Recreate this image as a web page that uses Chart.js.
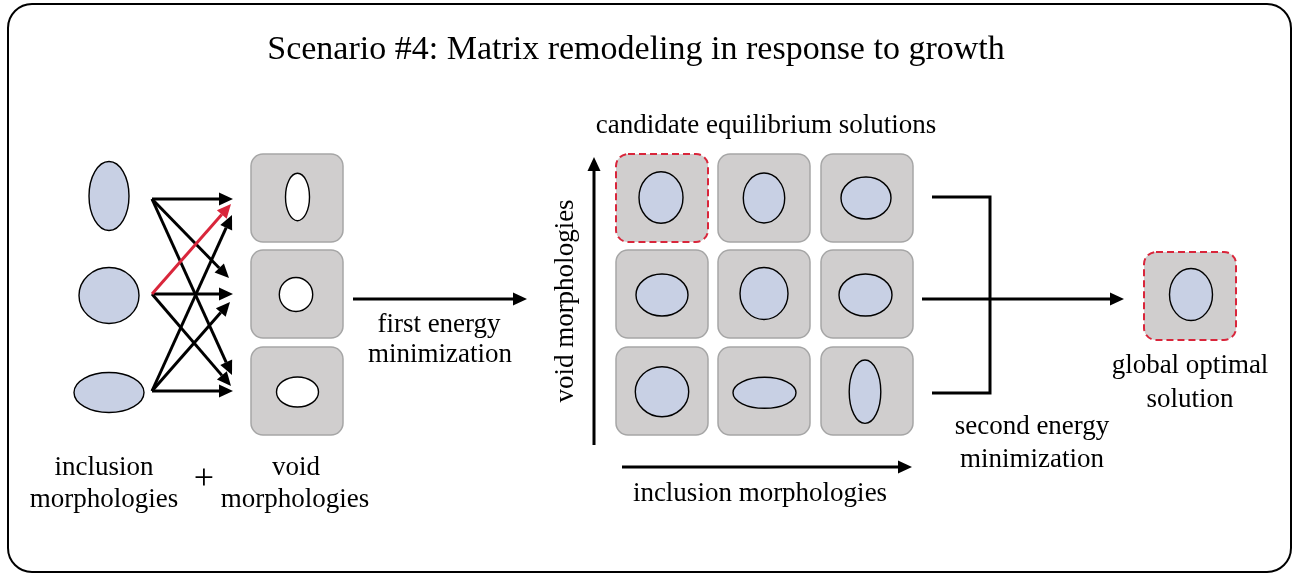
<!DOCTYPE html>
<html>
<head>
<meta charset="utf-8">
<script src="https://cdn.jsdelivr.net/npm/chart.js@4"></script>
<style>
  html, body { margin: 0; padding: 0; background: #fff; }
  canvas { display: block; }
</style>
</head>
<body>
<canvas id="scenarioChart" width="1296" height="574"></canvas>
<script>
// diagram units = image pixels, y grows downwards
const rowTops = [154, 250, 347];
const voidColX = 251;
const gridColX = [616, 718, 821];
const globalBox = [1144, 252];
const boxSize = [92, 88];

// ellipses: [cx, cy, rx, ry]
const inclusionShapes = [[109, 196, 20, 34.5], [109, 295.5, 30, 28], [109, 392.5, 35, 20]];
const voidShapes = [[297.5, 197, 12, 23.7], [296, 294.5, 16.7, 17], [297.5, 392, 21, 15]];
const gridShapes = [
  [661, 197.5, 22, 25.8], [764, 198, 20.7, 25], [866, 198, 25, 21],
  [662, 295, 26, 21], [764, 293.5, 24, 26], [865.5, 295, 26.5, 21],
  [662, 391.7, 26.7, 25], [764.5, 392.8, 31.5, 15.5], [865, 391.7, 15.8, 31.7]
];
const globalShape = [1191, 294.5, 21.5, 26];

// arrows: [x1, y1, x2, y2, colour]
const fanArrows = [
  [152, 199, 233, 199, 'k'], [152, 199, 229, 278, 'k'], [152, 199, 232, 375, 'k'],
  [152, 294, 231, 204, 'r'], [152, 294, 233, 294, 'k'], [152, 294, 231, 386, 'k'],
  [152, 391, 232, 215, 'k'], [152, 391, 230, 302, 'k'], [152, 391, 233, 391, 'k']
];
const flowArrows = [
  [353, 299, 527, 299], [594, 445, 594, 157], [622, 467, 912, 467], [922, 299, 1124, 299]
];
const bracket = [[932, 197], [990, 197], [990, 393], [932, 393]];

// labels: [text, x, y, size]
const labels = [
  ['Scenario #4: Matrix remodeling in response to growth', 636, 50, 34],
  ['candidate equilibrium solutions', 766, 126, 27],
  ['inclusion', 104, 468, 27], ['morphologies', 104, 500, 27],
  ['+', 204, 480, 36],
  ['void', 296, 468, 27], ['morphologies', 295, 500, 27],
  ['first energy', 439, 325, 27], ['minimization', 440, 355, 27],
  ['inclusion morphologies', 760, 494, 27],
  ['second energy', 1032, 427, 27], ['minimization', 1032, 460, 27],
  ['global optimal', 1190, 366, 27], ['solution', 1190, 400, 27]
];
const sideLabel = ['void morphologies', 566, 301, 27];

const FONT = '"Liberation Serif", "DejaVu Serif", serif';

const diagramPlugin = {
  id: 'diagram',
  afterDraw(chart) {
    const ctx = chart.ctx;
    const sx = chart.scales.x, sy = chart.scales.y;
    const px = v => sx.getPixelForValue(v);
    const py = v => sy.getPixelForValue(v);
    const dx = v => px(v) - px(0);
    const dy = v => py(v) - py(0);

    ctx.save();

    // outer frame
    roundRect(ctx, px(8), py(4), dx(1283), dy(568), 24);
    ctx.lineWidth = 2;
    ctx.strokeStyle = '#000';
    ctx.stroke();

    function box(x, y, dashed) {
      roundRect(ctx, px(x), py(y), dx(boxSize[0]), dy(boxSize[1]), 12);
      ctx.fillStyle = '#d0cece';
      ctx.fill();
      if (dashed) {
        ctx.setLineDash([7, 4]);
        ctx.strokeStyle = '#d9263b';
        ctx.lineWidth = 2;
      } else {
        ctx.setLineDash([]);
        ctx.strokeStyle = '#a6a6a6';
        ctx.lineWidth = 1.5;
      }
      ctx.stroke();
      ctx.setLineDash([]);
    }

    function ellipse(e, fill) {
      ctx.beginPath();
      ctx.ellipse(px(e[0]), py(e[1]), dx(e[2]), dy(e[3]), 0, 0, Math.PI * 2);
      ctx.fillStyle = fill;
      ctx.fill();
      ctx.lineWidth = 1.4;
      ctx.strokeStyle = '#000';
      ctx.stroke();
    }

    function arrow(x1, y1, x2, y2, color) {
      const a = px(x1), b = py(y1), c = px(x2), d = py(y2);
      const ang = Math.atan2(d - b, c - a);
      const len = 14, half = 6.5;
      const bx = c - len * Math.cos(ang), by = d - len * Math.sin(ang);
      ctx.strokeStyle = color;
      ctx.fillStyle = color;
      ctx.lineWidth = 3;
      ctx.beginPath();
      ctx.moveTo(a, b);
      ctx.lineTo(bx, by);
      ctx.stroke();
      ctx.beginPath();
      ctx.moveTo(c, d);
      ctx.lineTo(bx + half * Math.sin(ang), by - half * Math.cos(ang));
      ctx.lineTo(bx - half * Math.sin(ang), by + half * Math.cos(ang));
      ctx.closePath();
      ctx.fill();
    }

    // inclusions on the left
    inclusionShapes.forEach(e => ellipse(e, '#c8d0e4'));

    // void column
    rowTops.forEach((y, i) => {
      box(voidColX, y, false);
      ellipse(voidShapes[i], '#fff');
    });

    // candidate grid
    rowTops.forEach((y, r) => {
      gridColX.forEach((x, c) => {
        box(x, y, r === 0 && c === 0);
        ellipse(gridShapes[r * 3 + c], '#c8d0e4');
      });
    });

    // global optimum
    box(globalBox[0], globalBox[1], true);
    ellipse(globalShape, '#c8d0e4');

    // fan of arrows, red one last
    fanArrows.filter(f => f[4] === 'k').forEach(f => arrow(f[0], f[1], f[2], f[3], '#000'));
    fanArrows.filter(f => f[4] === 'r').forEach(f => arrow(f[0], f[1], f[2], f[3], '#d9263b'));

    flowArrows.forEach(f => arrow(f[0], f[1], f[2], f[3], '#000'));

    // bracket
    ctx.beginPath();
    bracket.forEach((p, i) => i ? ctx.lineTo(px(p[0]), py(p[1])) : ctx.moveTo(px(p[0]), py(p[1])));
    ctx.lineWidth = 3;
    ctx.strokeStyle = '#000';
    ctx.stroke();

    // texts
    ctx.fillStyle = '#000';
    ctx.textAlign = 'center';
    ctx.textBaseline = 'middle';
    labels.forEach(l => {
      ctx.font = l[3] + 'px ' + FONT;
      ctx.fillText(l[0], px(l[1]), py(l[2]));
    });
    ctx.save();
    ctx.translate(px(sideLabel[1]), py(sideLabel[2]));
    ctx.rotate(-Math.PI / 2);
    ctx.font = sideLabel[3] + 'px ' + FONT;
    ctx.fillText(sideLabel[0], 0, 0);
    ctx.restore();

    ctx.restore();
  }
};

function roundRect(ctx, x, y, w, h, r) {
  ctx.beginPath();
  ctx.moveTo(x + r, y);
  ctx.lineTo(x + w - r, y);
  ctx.arcTo(x + w, y, x + w, y + r, r);
  ctx.lineTo(x + w, y + h - r);
  ctx.arcTo(x + w, y + h, x + w - r, y + h, r);
  ctx.lineTo(x + r, y + h);
  ctx.arcTo(x, y + h, x, y + h - r, r);
  ctx.lineTo(x, y + r);
  ctx.arcTo(x, y, x + r, y, r);
  ctx.closePath();
}

const scenarioChart = new Chart(document.getElementById('scenarioChart'), {
  type: 'scatter',
  data: {
    datasets: [{
      label: 'shapes',
      data: inclusionShapes.concat(voidShapes, gridShapes, [globalShape]).map(e => ({ x: e[0], y: e[1] })),
      pointRadius: 0
    }]
  },
  options: {
    responsive: false,
    animation: false,
    devicePixelRatio: 1,
    layout: { padding: 0 },
    plugins: { legend: { display: false }, tooltip: { enabled: false } },
    scales: {
      x: { type: 'linear', min: 0, max: 1296, display: false },
      y: { type: 'linear', min: 0, max: 574, reverse: true, display: false }
    }
  },
  plugins: [diagramPlugin]
});
</script>
</body>
</html>
